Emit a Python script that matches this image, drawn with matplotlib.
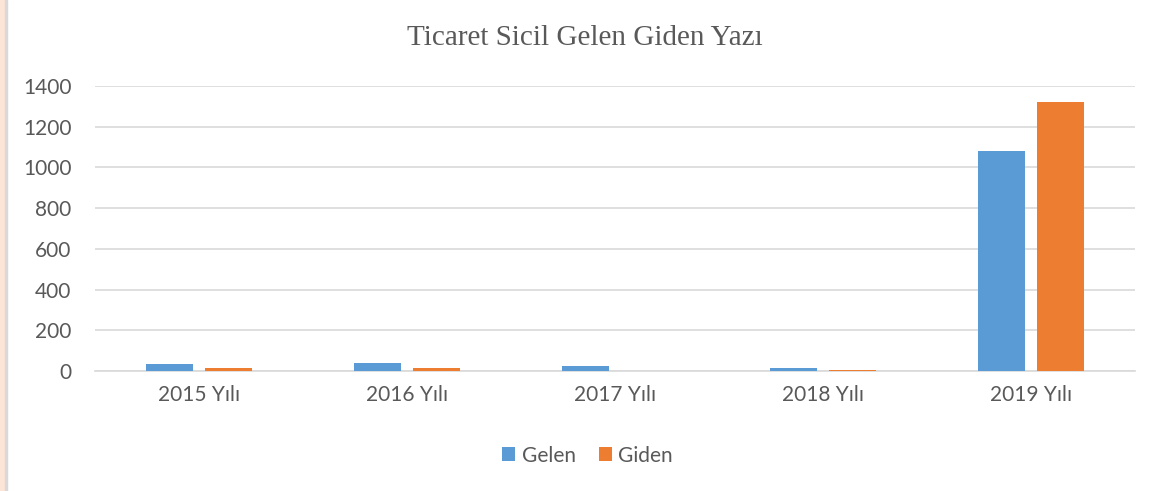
"""Ticaret Sicil gelen / giden yazı sayıları — grouped bar chart."""

import matplotlib
matplotlib.use("Agg")
import matplotlib.pyplot as plt
from matplotlib.patches import Rectangle
import numpy as np

# ── Data ──────────────────────────────────────────────────────────────────────
YEARS = ["2015 Yılı", "2016 Yılı", "2017 Yılı", "2018 Yılı", "2019 Yılı"]
GELEN = [35, 37, 25, 17, 1083]
GIDEN = [17, 17, 2, 7, 1322]
Y_TICKS = [0, 200, 400, 600, 800, 1000, 1200, 1400]

BLUE = "#5b9bd5"
ORANGE = "#ed7d31"
TEXT = "#595959"
GRID = "#d9d9d9"

BAR_W = 0.226
OFFSET = 0.142

fig = plt.figure(figsize=(11.61, 4.91), dpi=100)
ax = fig.add_axes([95 / 1161, 120 / 491, 1040 / 1161, 285 / 491])

x = np.arange(len(YEARS))
ax.bar(x - OFFSET, GELEN, BAR_W, color=BLUE, label="Gelen", zorder=3)
ax.bar(x + OFFSET, GIDEN, BAR_W, color=ORANGE, label="Giden", zorder=3)

ax.set_xlim(-0.5, len(YEARS) - 0.5)
ax.set_ylim(0, 1400)
ax.set_yticks(Y_TICKS)
ax.set_xticks(x)
ax.set_xticklabels(YEARS)
ax.grid(axis="y", color=GRID, linewidth=1.2, zorder=0)
for side in ("top", "right", "left"):
    ax.spines[side].set_visible(False)
ax.spines["bottom"].set_color(GRID)
ax.spines["bottom"].set_linewidth(1.2)
ax.tick_params(length=0, colors=TEXT, labelsize=15, pad=10)
ax.tick_params(axis="y", pad=17)
for lab in ax.get_xticklabels() + ax.get_yticklabels():
    lab.set_family("Lato")

fig.text(0.504, 0.922, "Ticaret Sicil Gelen Giden Yazı", ha="center", va="center",
         family="Liberation Serif", fontsize=21, color=TEXT)

leg = fig.legend(loc="center", bbox_to_anchor=(0.506, 0.072), ncol=2, frameon=False,
                 prop={"family": "Lato", "size": 15}, handlelength=0.65,
                 handleheight=0.65, handletextpad=0.3, columnspacing=1.1)
for t in leg.get_texts():
    t.set_color(TEXT)

# peach page edge on the left
fig.patches.append(Rectangle((0, 0), 5 / 1161, 1, transform=fig.transFigure,
                             color="#fce4d6", zorder=0))
fig.patches.append(Rectangle((5 / 1161, 0), 2 / 1161, 1, transform=fig.transFigure,
                             color="#d9d9d9", zorder=0))

fig.savefig("out.png", dpi=100)
